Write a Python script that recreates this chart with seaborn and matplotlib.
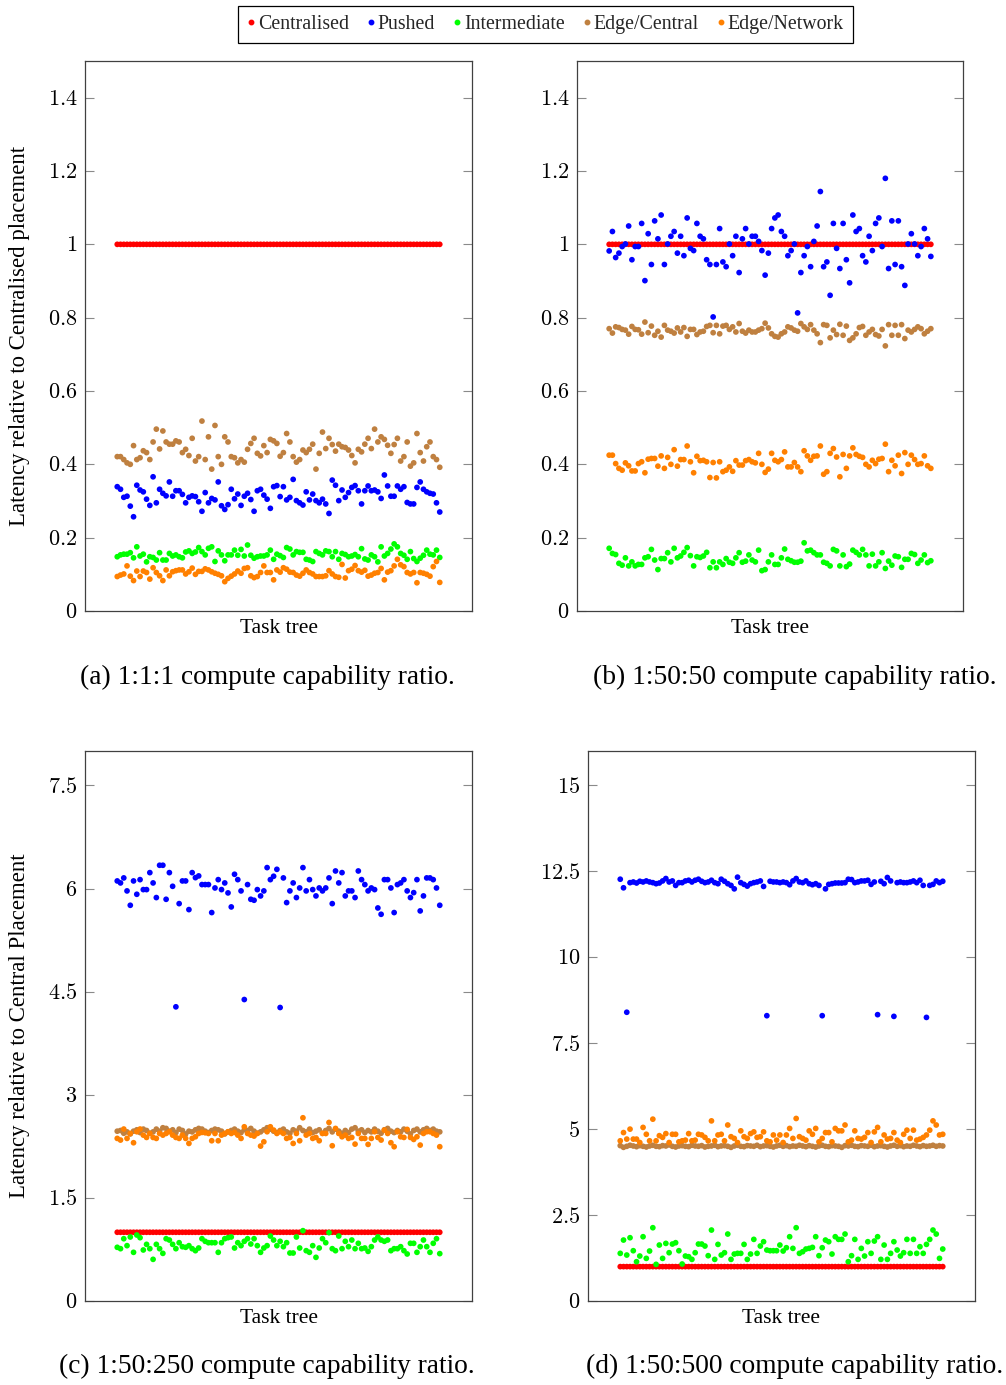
import pandas as pd
import seaborn as sns
import matplotlib.pyplot as plt
from matplotlib.lines import Line2D

# Series names and colours (pgfplots red/blue/green/brown/orange)
series_names = ["Centralised", "Pushed", "Intermediate", "Edge/Central", "Edge/Network"]
colours = {"Centralised": "#ff0000", "Pushed": "#0000ff", "Intermediate": "#00ff00",
           "Edge/Central": "#bf8040", "Edge/Network": "#ff8000"}

# (a) 1:1:1
centralised_a = [1.0] * 100
pushed_a = [0.339, 0.332, 0.310, 0.313, 0.286, 0.257, 0.343, 0.330, 0.325, 0.305,
            0.288, 0.366, 0.295, 0.332, 0.321, 0.314, 0.352, 0.313, 0.328, 0.328,
            0.318, 0.295, 0.310, 0.314, 0.312, 0.298, 0.272, 0.323, 0.295, 0.307,
            0.303, 0.352, 0.287, 0.277, 0.290, 0.332, 0.306, 0.319, 0.288, 0.313,
            0.321, 0.304, 0.272, 0.328, 0.332, 0.316, 0.305, 0.280, 0.339, 0.342,
            0.312, 0.339, 0.303, 0.310, 0.359, 0.301, 0.295, 0.289, 0.325, 0.303,
            0.319, 0.301, 0.295, 0.305, 0.292, 0.266, 0.357, 0.343, 0.301, 0.330,
            0.310, 0.323, 0.337, 0.342, 0.328, 0.292, 0.328, 0.341, 0.328, 0.330,
            0.325, 0.307, 0.371, 0.341, 0.313, 0.313, 0.341, 0.332, 0.339, 0.296,
            0.292, 0.292, 0.337, 0.352, 0.332, 0.325, 0.321, 0.319, 0.295, 0.270]
intermediate_a = [0.148, 0.153, 0.155, 0.155, 0.159, 0.145, 0.175, 0.150, 0.155, 0.134,
                  0.148, 0.146, 0.139, 0.159, 0.139, 0.139, 0.157, 0.150, 0.153, 0.148,
                  0.145, 0.161, 0.164, 0.157, 0.161, 0.173, 0.162, 0.153, 0.171, 0.175,
                  0.135, 0.164, 0.153, 0.137, 0.153, 0.153, 0.166, 0.152, 0.168, 0.150,
                  0.180, 0.152, 0.144, 0.148, 0.150, 0.150, 0.153, 0.166, 0.141, 0.155,
                  0.151, 0.146, 0.173, 0.169, 0.153, 0.162, 0.160, 0.160, 0.141, 0.139,
                  0.135, 0.162, 0.157, 0.153, 0.164, 0.162, 0.148, 0.162, 0.141, 0.157,
                  0.154, 0.148, 0.150, 0.154, 0.148, 0.170, 0.142, 0.139, 0.153, 0.148,
                  0.134, 0.175, 0.150, 0.157, 0.169, 0.183, 0.175, 0.157, 0.152, 0.141,
                  0.162, 0.143, 0.135, 0.144, 0.152, 0.166, 0.155, 0.153, 0.166, 0.146]
edge_central_a = [0.421, 0.421, 0.413, 0.404, 0.400, 0.451, 0.413, 0.418, 0.437, 0.432,
                  0.413, 0.461, 0.496, 0.442, 0.491, 0.461, 0.455, 0.455, 0.464, 0.461,
                  0.432, 0.441, 0.424, 0.471, 0.409, 0.421, 0.518, 0.413, 0.475, 0.387,
                  0.506, 0.421, 0.400, 0.475, 0.461, 0.421, 0.418, 0.404, 0.413, 0.406,
                  0.441, 0.457, 0.471, 0.430, 0.423, 0.451, 0.432, 0.468, 0.464, 0.457,
                  0.422, 0.432, 0.484, 0.461, 0.421, 0.406, 0.413, 0.439, 0.432, 0.441,
                  0.455, 0.387, 0.430, 0.488, 0.443, 0.471, 0.454, 0.436, 0.455, 0.448,
                  0.446, 0.439, 0.424, 0.404, 0.441, 0.434, 0.455, 0.471, 0.443, 0.496,
                  0.461, 0.475, 0.468, 0.452, 0.430, 0.454, 0.471, 0.409, 0.421, 0.461,
                  0.395, 0.404, 0.484, 0.432, 0.409, 0.448, 0.461, 0.421, 0.413, 0.392]
edge_network_a = [0.094, 0.098, 0.101, 0.123, 0.095, 0.083, 0.109, 0.094, 0.109, 0.105,
                  0.087, 0.118, 0.105, 0.096, 0.083, 0.112, 0.096, 0.107, 0.110, 0.112,
                  0.112, 0.101, 0.107, 0.117, 0.100, 0.108, 0.108, 0.115, 0.112, 0.107,
                  0.103, 0.100, 0.096, 0.080, 0.089, 0.095, 0.101, 0.109, 0.103, 0.116,
                  0.118, 0.096, 0.091, 0.094, 0.105, 0.123, 0.105, 0.105, 0.085, 0.112,
                  0.106, 0.118, 0.114, 0.106, 0.105, 0.098, 0.095, 0.103, 0.112, 0.105,
                  0.101, 0.094, 0.094, 0.094, 0.096, 0.110, 0.101, 0.094, 0.092, 0.127,
                  0.090, 0.110, 0.114, 0.124, 0.110, 0.106, 0.111, 0.095, 0.098, 0.103,
                  0.105, 0.116, 0.085, 0.106, 0.110, 0.123, 0.141, 0.126, 0.121, 0.105,
                  0.101, 0.105, 0.077, 0.105, 0.103, 0.100, 0.095, 0.121, 0.135, 0.078]

# (b) 1:50:50
centralised_b = [1.0] * 100
pushed_b = [0.982, 1.035, 0.964, 0.976, 0.994, 1.001, 1.050, 0.958, 0.994, 0.994,
            1.057, 0.901, 1.029, 0.945, 1.064, 1.015, 1.080, 0.945, 1.001, 1.022,
            1.035, 0.976, 1.022, 0.969, 1.072, 0.989, 0.983, 1.057, 1.022, 1.015,
            0.958, 0.945, 0.802, 0.945, 1.043, 0.952, 0.939, 1.001, 0.969, 1.022,
            0.923, 1.015, 1.043, 1.001, 1.022, 1.022, 1.008, 0.983, 0.916, 0.976,
            1.043, 1.072, 1.080, 1.035, 1.022, 0.969, 0.983, 1.001, 0.813, 0.923,
            0.969, 0.994, 0.939, 1.008, 1.050, 1.144, 0.939, 0.952, 0.861, 1.057,
            0.989, 0.934, 1.057, 0.958, 0.895, 1.080, 1.035, 1.043, 0.969, 0.952,
            1.022, 0.983, 1.057, 1.072, 0.994, 1.180, 0.934, 1.064, 0.945, 1.064,
            0.939, 0.888, 1.001, 1.029, 1.001, 0.969, 0.994, 1.043, 1.015, 0.967]
intermediate_b = [0.171, 0.157, 0.154, 0.130, 0.125, 0.145, 0.123, 0.134, 0.123, 0.127,
                  0.127, 0.145, 0.148, 0.168, 0.139, 0.113, 0.143, 0.143, 0.159, 0.134,
                  0.171, 0.145, 0.150, 0.160, 0.173, 0.151, 0.123, 0.148, 0.146, 0.150,
                  0.160, 0.118, 0.134, 0.118, 0.134, 0.127, 0.143, 0.133, 0.130, 0.145,
                  0.159, 0.133, 0.136, 0.153, 0.139, 0.134, 0.166, 0.110, 0.113, 0.134,
                  0.153, 0.127, 0.127, 0.145, 0.169, 0.141, 0.137, 0.133, 0.133, 0.136,
                  0.186, 0.164, 0.166, 0.159, 0.153, 0.153, 0.133, 0.130, 0.123, 0.168,
                  0.164, 0.123, 0.153, 0.121, 0.128, 0.166, 0.160, 0.153, 0.168, 0.153,
                  0.123, 0.155, 0.123, 0.134, 0.159, 0.116, 0.136, 0.125, 0.150, 0.148,
                  0.119, 0.141, 0.141, 0.157, 0.154, 0.130, 0.139, 0.153, 0.132, 0.137]
edge_central_b = [0.770, 0.758, 0.775, 0.773, 0.768, 0.766, 0.755, 0.776, 0.768, 0.767,
                  0.755, 0.788, 0.759, 0.777, 0.752, 0.763, 0.747, 0.779, 0.766, 0.763,
                  0.758, 0.772, 0.761, 0.773, 0.749, 0.768, 0.768, 0.754, 0.761, 0.763,
                  0.776, 0.779, 0.759, 0.779, 0.756, 0.777, 0.779, 0.768, 0.775, 0.761,
                  0.784, 0.763, 0.758, 0.766, 0.761, 0.761, 0.766, 0.770, 0.785, 0.772,
                  0.756, 0.749, 0.747, 0.756, 0.761, 0.775, 0.772, 0.766, 0.763, 0.784,
                  0.775, 0.768, 0.781, 0.766, 0.756, 0.732, 0.781, 0.779, 0.745, 0.766,
                  0.754, 0.782, 0.752, 0.777, 0.738, 0.745, 0.756, 0.773, 0.776, 0.752,
                  0.761, 0.768, 0.754, 0.750, 0.768, 0.723, 0.781, 0.752, 0.779, 0.752,
                  0.781, 0.743, 0.766, 0.761, 0.768, 0.775, 0.770, 0.756, 0.763, 0.770]
edge_network_b = [0.425, 0.425, 0.402, 0.389, 0.384, 0.404, 0.396, 0.382, 0.382, 0.402,
                  0.407, 0.377, 0.414, 0.416, 0.416, 0.395, 0.423, 0.389, 0.419, 0.400,
                  0.440, 0.395, 0.413, 0.413, 0.450, 0.407, 0.377, 0.422, 0.410, 0.411,
                  0.407, 0.364, 0.405, 0.363, 0.407, 0.380, 0.384, 0.393, 0.381, 0.410,
                  0.398, 0.398, 0.410, 0.413, 0.407, 0.404, 0.430, 0.400, 0.378, 0.387,
                  0.430, 0.411, 0.407, 0.413, 0.434, 0.393, 0.393, 0.405, 0.393, 0.380,
                  0.437, 0.423, 0.411, 0.422, 0.423, 0.450, 0.373, 0.380, 0.430, 0.443,
                  0.420, 0.366, 0.427, 0.389, 0.423, 0.445, 0.427, 0.422, 0.419, 0.400,
                  0.393, 0.411, 0.402, 0.414, 0.416, 0.455, 0.380, 0.411, 0.396, 0.425,
                  0.375, 0.432, 0.400, 0.425, 0.413, 0.400, 0.402, 0.423, 0.396, 0.389]

# (c) 1:50:250
centralised_c = [1.0] * 100
pushed_c = [6.110, 6.081, 6.154, 5.965, 5.756, 6.110, 5.916, 6.129, 5.984, 5.984,
            6.231, 6.081, 5.868, 6.338, 6.338, 5.843, 6.231, 6.032, 4.279, 5.780,
            6.110, 6.110, 5.693, 6.231, 6.158, 6.183, 6.057, 6.057, 6.057, 5.650,
            6.008, 6.129, 5.984, 6.081, 5.936, 5.732, 6.207, 6.129, 5.965, 4.385,
            6.057, 5.843, 5.829, 5.984, 5.892, 5.965, 6.304, 6.129, 6.178, 6.279,
            4.269, 6.154, 5.795, 5.965, 6.081, 5.868, 6.008, 6.304, 5.965, 6.129,
            5.984, 5.892, 6.008, 5.965, 6.008, 6.154, 5.780, 6.255, 6.081, 6.231,
            5.892, 5.965, 5.965, 5.868, 6.255, 6.129, 6.057, 5.965, 6.008, 5.984,
            5.717, 5.625, 6.129, 6.129, 6.008, 5.650, 6.057, 6.081, 6.129, 5.965,
            5.868, 5.940, 6.129, 5.674, 5.892, 6.154, 6.154, 6.129, 6.008, 5.756]
intermediate_c = [0.781, 0.761, 0.906, 0.805, 0.931, 0.708, 0.960, 0.921, 0.742, 0.824,
                  0.761, 0.606, 0.824, 0.761, 0.693, 0.906, 0.887, 0.824, 0.761, 0.848,
                  0.790, 0.781, 0.805, 0.761, 0.732, 0.771, 0.906, 0.868, 0.848, 0.848,
                  0.848, 0.708, 0.848, 0.906, 0.921, 0.931, 0.771, 0.848, 0.805, 0.868,
                  0.906, 0.829, 0.906, 0.805, 0.708, 0.771, 0.805, 0.945, 0.887, 0.805,
                  0.868, 0.790, 0.848, 0.698, 0.698, 0.931, 0.771, 1.023, 0.732, 0.708,
                  0.805, 0.635, 0.771, 0.906, 0.848, 0.994, 0.761, 0.732, 0.945, 0.761,
                  0.868, 0.790, 0.887, 0.761, 0.839, 0.761, 0.771, 0.722, 0.790, 0.887,
                  0.931, 0.887, 0.868, 0.887, 0.732, 0.761, 0.761, 0.790, 0.732, 0.684,
                  0.839, 0.839, 0.708, 0.790, 0.887, 0.790, 0.708, 0.839, 0.906, 0.689]
edge_central_c = [2.47, 2.48, 2.44, 2.46, 2.43, 2.47, 2.49, 2.45, 2.50, 2.48,
                  2.44, 2.46, 2.50, 2.47, 2.52, 2.51, 2.47, 2.49, 2.45, 2.50,
                  2.48, 2.43, 2.47, 2.46, 2.49, 2.51, 2.50, 2.47, 2.45, 2.48,
                  2.50, 2.49, 2.47, 2.43, 2.46, 2.48, 2.50, 2.47, 2.45, 2.49,
                  2.48, 2.51, 2.47, 2.44, 2.46, 2.49, 2.52, 2.50, 2.47, 2.45,
                  2.48, 2.50, 2.46, 2.44, 2.49, 2.47, 2.52, 2.48, 2.46, 2.50,
                  2.45, 2.47, 2.49, 2.44, 2.48, 2.51, 2.46, 2.50, 2.47, 2.44,
                  2.48, 2.45, 2.50, 2.52, 2.47, 2.49, 2.45, 2.48, 2.46, 2.50,
                  2.47, 2.44, 2.49, 2.51, 2.47, 2.45, 2.48, 2.46, 2.50, 2.47,
                  2.43, 2.48, 2.50, 2.46, 2.49, 2.51, 2.48, 2.50, 2.47, 2.46]
edge_network_c = [2.365, 2.341, 2.501, 2.365, 2.437, 2.302, 2.462, 2.501, 2.413, 2.379,
                  2.437, 2.379, 2.365, 2.437, 2.413, 2.437, 2.462, 2.413, 2.379, 2.365,
                  2.413, 2.365, 2.292, 2.365, 2.389, 2.437, 2.452, 2.447, 2.437, 2.331,
                  2.437, 2.331, 2.413, 2.437, 2.462, 2.437, 2.452, 2.413, 2.365, 2.534,
                  2.437, 2.413, 2.399, 2.437, 2.253, 2.316, 2.462, 2.534, 2.486, 2.437,
                  2.462, 2.437, 2.365, 2.379, 2.292, 2.437, 2.331, 2.665, 2.413, 2.437,
                  2.365, 2.379, 2.331, 2.437, 2.437, 2.597, 2.258, 2.510, 2.437, 2.389,
                  2.413, 2.365, 2.379, 2.282, 2.437, 2.365, 2.365, 2.278, 2.365, 2.462,
                  2.379, 2.341, 2.486, 2.437, 2.302, 2.244, 2.462, 2.389, 2.379, 2.496,
                  2.379, 2.350, 2.389, 2.268, 2.437, 2.462, 2.462, 2.437, 2.413, 2.244]

# (d) 1:50:500
centralised_d = [1.0] * 100
pushed_d = [12.27, 12.02, 8.40, 12.17, 12.19, 12.16, 12.21, 12.19, 12.22, 12.19,
            12.17, 12.14, 12.16, 12.22, 12.29, 12.19, 12.22, 12.09, 12.17, 12.17,
            12.22, 12.24, 12.19, 12.24, 12.27, 12.21, 12.17, 12.19, 12.24, 12.17,
            12.14, 12.27, 12.21, 12.14, 12.09, 11.99, 12.33, 12.17, 12.12, 12.07,
            12.14, 12.17, 12.19, 12.22, 12.06, 8.30, 12.21, 12.19, 12.19, 12.17,
            12.19, 12.17, 12.11, 12.22, 12.29, 12.19, 12.17, 12.22, 12.14, 12.11,
            12.14, 12.09, 8.30, 11.99, 12.12, 12.14, 12.16, 12.16, 12.16, 12.17,
            12.27, 12.26, 12.17, 12.19, 12.22, 12.22, 12.24, 12.12, 12.19, 8.33,
            12.21, 12.14, 12.32, 12.22, 8.28, 12.17, 12.19, 12.17, 12.17, 12.19,
            12.22, 12.17, 12.24, 12.09, 8.25, 12.09, 12.12, 12.22, 12.17, 12.21]
intermediate_d = [1.386, 1.773, 1.337, 1.841, 1.463, 1.143, 1.308, 1.870, 1.240, 1.454,
                  2.132, 1.066, 1.628, 1.240, 1.676, 1.405, 1.657, 1.696, 1.463, 1.076,
                  1.308, 1.289, 1.211, 1.405, 1.657, 1.657, 1.599, 1.318, 2.064, 1.211,
                  1.647, 1.337, 1.405, 1.948, 1.211, 1.366, 1.386, 1.386, 1.647, 1.211,
                  1.366, 1.793, 1.386, 1.599, 1.725, 1.483, 1.463, 1.463, 1.463, 1.628,
                  1.454, 1.550, 1.870, 1.531, 2.132, 1.386, 1.434, 1.512, 1.531, 1.560,
                  1.870, 1.318, 1.550, 1.773, 1.725, 1.366, 1.870, 1.793, 1.793, 1.948,
                  1.143, 1.318, 1.793, 1.211, 1.531, 1.308, 1.725, 1.386, 1.744, 1.870,
                  1.211, 1.628, 1.211, 1.386, 1.725, 1.483, 1.308, 1.405, 1.793, 1.386,
                  1.793, 1.386, 1.580, 1.386, 1.647, 1.793, 2.064, 1.948, 1.240, 1.512]
edge_central_d = [4.52, 4.47, 4.50, 4.53, 4.51, 4.49, 4.52, 4.50, 4.48, 4.51,
                  4.53, 4.50, 4.49, 4.52, 4.51, 4.54, 4.50, 4.48, 4.51, 4.52,
                  4.50, 4.49, 4.53, 4.51, 4.50, 4.52, 4.48, 4.50, 4.51, 4.53,
                  4.49, 4.51, 4.52, 4.50, 4.47, 4.51, 4.53, 4.50, 4.49, 4.52,
                  4.51, 4.50, 4.53, 4.49, 4.51, 4.52, 4.50, 4.48, 4.51, 4.53,
                  4.50, 4.52, 4.49, 4.51, 4.50, 4.53, 4.51, 4.49, 4.52, 4.50,
                  4.48, 4.51, 4.53, 4.50, 4.49, 4.52, 4.51, 4.50, 4.47, 4.52,
                  4.51, 4.53, 4.50, 4.49, 4.52, 4.51, 4.50, 4.53, 4.49, 4.51,
                  4.52, 4.50, 4.48, 4.51, 4.53, 4.50, 4.52, 4.49, 4.51, 4.50,
                  4.53, 4.51, 4.49, 4.52, 4.50, 4.51, 4.53, 4.50, 4.52, 4.51]
edge_network_d = [4.66, 4.90, 4.71, 5.00, 4.71, 4.71, 4.61, 5.05, 4.85, 4.66,
                  5.29, 4.66, 4.81, 4.76, 4.87, 4.61, 4.85, 4.85, 4.63, 4.66,
                  4.68, 4.87, 4.66, 4.68, 4.85, 4.83, 4.76, 4.66, 5.24, 4.66,
                  4.83, 4.85, 4.66, 5.12, 4.78, 4.73, 4.61, 4.95, 4.78, 4.73,
                  4.87, 4.92, 4.76, 4.78, 4.92, 4.66, 4.63, 4.83, 4.68, 4.83,
                  4.61, 4.83, 5.02, 4.73, 5.31, 4.78, 4.73, 4.68, 4.95, 4.85,
                  5.02, 4.63, 4.73, 4.90, 4.90, 4.63, 5.02, 4.95, 4.95, 5.12,
                  4.63, 4.68, 4.95, 4.73, 4.71, 4.76, 4.90, 4.61, 4.92, 5.05,
                  4.63, 4.83, 4.71, 4.73, 4.90, 4.68, 4.61, 4.85, 4.97, 4.73,
                  4.97, 4.68, 4.71, 4.76, 4.83, 4.97, 5.24, 5.12, 4.83, 4.85]

# y ticks / labels per panel
yticks_ab = [0, 0.2, 0.4, 0.6, 0.8, 1, 1.2, 1.4]
yticklabels_ab = ["0", "0.2", "0.4", "0.6", "0.8", "1", "1.2", "1.4"]
yticks_c = [0, 1.5, 3, 4.5, 6, 7.5]
yticklabels_c = ["0", "1.5", "3", "4.5", "6", "7.5"]
yticks_d = [0, 2.5, 5, 7.5, 10, 12.5, 15]
yticklabels_d = ["0", "2.5", "5", "7.5", "10", "12.5", "15"]

sns.set_theme(style="white")
plt.rcParams['font.family'] = ['Liberation Serif', 'DejaVu Serif']
plt.rcParams['mathtext.fontset'] = 'cm'

W, H = 1006, 1385
fig = plt.figure(figsize=(W / 100, H / 100), dpi=100)


def box(left, top, right, bottom):
    return [left / W, 1 - bottom / H, (right - left) / W, (bottom - top) / H]


panels = [
    dict(rect=box(85, 61, 472, 611),
         data=[centralised_a, pushed_a, intermediate_a, edge_central_a, edge_network_a],
         ylim=(0, 1.5), ticks=yticks_ab, labels=yticklabels_ab,
         ylabel="Latency relative to Centralised placement",
         caption="(a) 1:1:1 compute capability ratio.", cap_xy=(267, 677)),
    dict(rect=box(577, 61, 963, 611),
         data=[centralised_b, pushed_b, intermediate_b, edge_central_b, edge_network_b],
         ylim=(0, 1.5), ticks=yticks_ab, labels=yticklabels_ab, ylabel=None,
         caption="(b) 1:50:50 compute capability ratio.", cap_xy=(795, 677)),
    dict(rect=box(85, 751, 472, 1301),
         data=[centralised_c, pushed_c, intermediate_c, edge_central_c, edge_network_c],
         ylim=(0, 8), ticks=yticks_c, labels=yticklabels_c,
         ylabel="Latency relative to Central Placement",
         caption="(c) 1:50:250 compute capability ratio.", cap_xy=(267, 1366)),
    dict(rect=box(588, 751, 975, 1301),
         data=[centralised_d, pushed_d, intermediate_d, edge_central_d, edge_network_d],
         ylim=(0, 16), ticks=yticks_d, labels=yticklabels_d, ylabel=None,
         caption="(d) 1:50:500 compute capability ratio.", cap_xy=(795, 1366)),
]

for p in panels:
    ax = fig.add_axes(p["rect"])
    frames = []
    for name, vals in zip(series_names, p["data"]):
        frames.append(pd.DataFrame({"task": range(1, len(vals) + 1), "latency": vals, "series": name}))
    df = pd.concat(frames, ignore_index=True)
    sns.scatterplot(data=df, x="task", y="latency", hue="series", hue_order=series_names,
                    palette=colours, s=17, linewidth=0, legend=False, ax=ax)
    ax.set_xlim(-8.9, 109.9)
    ax.set_ylim(*p["ylim"])
    ax.set_yticks(p["ticks"])
    ax.set_yticklabels([f"${t}$" for t in p["labels"]])
    ax.set_xticks([])
    ax.tick_params(axis="y", direction="in", length=6.5, width=0.8, color="#8a8a8a",
                   left=True, right=True, labelsize=16, pad=5.5, labelcolor="black")
    for sp in ax.spines.values():
        sp.set_color("#404040")
        sp.set_linewidth(0.9)
    ax.set_xlabel("Task tree", fontsize=15.5, color="black")
    ax.xaxis.set_label_coords(0.5, -0.031)
    ax.xaxis.label.set_va("center")
    ax.set_ylabel("")
    if p["ylabel"]:
        cy = p["rect"][1] + p["rect"][3] / 2
        fig.text(20 / W, cy, p["ylabel"], rotation=90, ha="center", va="center",
                 fontsize=16.4, color="black")
    cx, cy = p["cap_xy"]
    fig.text(cx / W, 1 - cy / H, p["caption"], ha="center", va="center",
             fontsize=19.8, color="black")

handles = [Line2D([], [], marker="o", ls="", color=colours[n], markersize=3.2) for n in series_names]
leg = fig.legend(handles, series_names, loc="upper center", bbox_to_anchor=(545.5 / W, 1 - 6 / H),
                 ncol=5, frameon=True, fancybox=False, edgecolor="black", framealpha=1,
                 fontsize=14.3, handlelength=0.4, handletextpad=0.15, columnspacing=0.9,
                 borderpad=0.45, borderaxespad=0)
leg.get_frame().set_linewidth(0.9)

fig.savefig("out.png", dpi=100)
